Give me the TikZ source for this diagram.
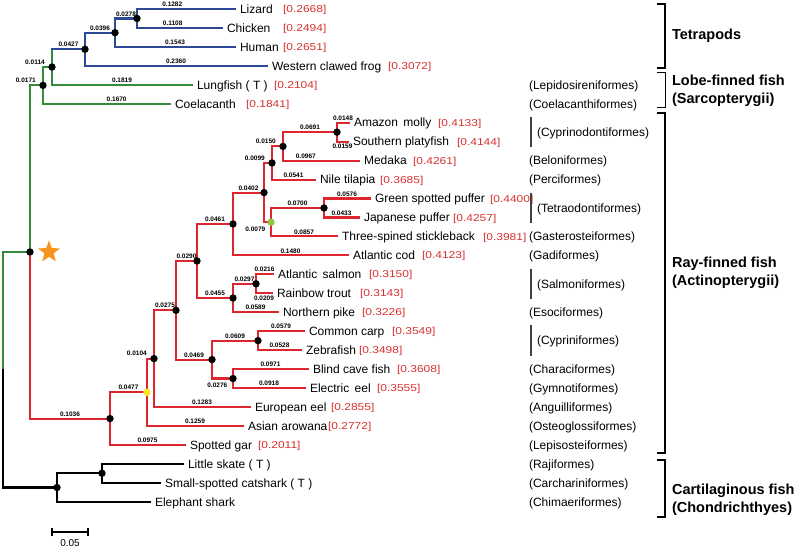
\documentclass[tikz,border=0pt]{standalone}
\usepackage{fontspec}
\setmainfont{Liberation Sans}
\newfontfamily\valfont{Liberation Sans}[FakeStretch=1.2]
\usetikzlibrary{shapes.geometric,arrows.meta}
\definecolor{tblue}{RGB}{44,74,152}
\definecolor{sgreen}{RGB}{52,140,58}
\definecolor{ared}{RGB}{221,38,48}
\definecolor{valred}{RGB}{214,48,48}
\definecolor{starorange}{RGB}{247,148,29}
\definecolor{nyellow}{RGB}{250,228,40}
\definecolor{ngreen}{RGB}{141,198,63}
\begin{document}
\begin{tikzpicture}[x=1pt,y=-18.95pt,line width=2.1pt,line cap=rect,
 leaf/.style={anchor=west,inner xsep=4pt,inner ysep=0pt,text height=8.6pt,text depth=0pt,font=\fontsize{12}{14}\selectfont},
 val/.style={anchor=west,inner sep=0pt,text height=7.2pt,text depth=0pt,text=valred,font=\valfont\fontsize{10}{12}\selectfont},
 ord/.style={anchor=west,inner sep=0pt,text height=8.6pt,text depth=0pt,font=\fontsize{12}{14}\selectfont},
 blen/.style={inner sep=1.2pt,text=black,font=\bfseries\fontsize{6.5}{7}\selectfont},
 bmid/.style={above},bbel/.style={below},
 bleft/.style={at end,anchor=south east,xshift=-5pt,yshift=.5pt},
 bunder/.style={at end,anchor=north east,xshift=-3.5pt,yshift=-2.5pt},
 grp/.style={anchor=west,align=left,inner sep=0pt,font=\bfseries\fontsize{14.5}{18}\selectfont},
 brk/.style={line width=2pt,line cap=butt}]
 \useasboundingbox (0,-0.4749) rectangle (800,28.4433);
 % leaves: name / tip x / row / text / value x / value
 \foreach \n/\x/\r/\t/\vx/\v in {lizard/235/0/Lizard/282/0.2668, chicken/222/1/Chicken/282/0.2494, human/235/2/Human/282/0.2651,
   frog/267/3/Western clawed frog/387/0.3072, lungfish/192/4/Lungfish ( T )/273/0.2104, coela/170/5/Coelacanth/245/0.1841,
   molly/349/6/Amazon\, molly/437/0.4133, platy/348/7/Southern platyfish/456/0.4144, medaka/359/8/Medaka/412/0.4261,
   tilapia/315/9/Nile tilapia/379/0.3685, gspuffer/370/10/Green spotted puffer/489/0.4400, jpuffer/359/11/Japanese puffer/452/0.4257,
   stickle/337/12/Three-spined stickleback/482/0.3981, cod/348/13/Atlantic cod/421/0.4123, salmon/273/14/Atlantic\, salmon/368/0.3150,
   trout/272/15/Rainbow trout/359/0.3143, pike/278/16/Northern pike/361/0.3226, carp/304/17/Common carp/391/0.3549,
   zebra/301/18/Zebrafish/358/0.3498, cave/308/19/Blind cave fish/396/0.3608, eeel/305/20/Electric\, eel/376/0.3555,
   eueel/250/21/European eel/330/0.2855, arowana/243/22/Asian arowana/327/0.2772, gar/185/23/Spotted gar/257/0.2011}
  {\node[leaf] (\n) at (\x,\r) {\t}; \node[val] (v\n) at (\vx,\r) {[\v]};}
 \foreach \n/\x/\r/\t in {skate/183/24/Little skate ( T ), catshark/160/25/Small-spotted catshark ( T ), eshark/150/26/Elephant shark}
  {\node[leaf] (\n) at (\x,\r) {\t};}
 % inner nodes
 \foreach \n/\x/\r in {n0278/137/0.5, n0396/115/1.25, n0427/85/2.125, n0114/52/3.0625, n0171/43/4.03125, ost/30/12.8218,
   n1036/110/21.6123, n0477/147/20.2246, n0104/154/18.4492, n0275/176/15.8984, n0290/197/13.2969, n0461/233/11.3438,
   n0402/264/9.6875, n0099/272/8.125, n0150/283/7.25, n0691/337/6.5, n0079/271/11.25, n0700/324/10.5, n0455/233/15.25,
   n0297/256/14.5, n0469/212/18.5, n0609/258/17.5, n0276/233/19.5, chond/57/25.25, batoid/102/24.5, root/3/19.036}
  {\coordinate (\n) at (\x,\r);}
 % tetrapods
 \foreach \p/\c/\l/\q/\s in {n0278/lizard/0.1282/.68/bmid, n0278/chicken/0.1108/.71/bmid, n0396/n0278/0.0278/.75/bmid,
   n0396/human/0.1543/.75/bmid, n0427/n0396/0.0396/.75/bmid, n0427/frog/0.2360/.75/bmid}
  {\draw[tblue] (\p) |- (\c) node[blen,pos=\q,\s] {\l};}
 \draw[sgreen] (n0114) -- (n0114 |- n0427);
 \draw[tblue] (n0114 |- n0427) -- (n0427) node[blen,midway,above] {0.0427};
 % lobe-finned
 \foreach \p/\c/\l/\q/\s in {n0114/lungfish/0.1819/.75/bmid, n0171/n0114/0.0114/1/bleft, n0171/coela/0.1670/.79/bmid, ost/n0171/0.0171/1/bleft}
  {\draw[sgreen] (\p) |- (\c) node[blen,pos=\q,\s] {\l};}
 \draw[sgreen] (root) |- (ost);
 % ray-finned
 \foreach \p/\c/\l/\q/\s in {ost/n1036/0.1036/.75/bmid, n1036/n0477/0.0477/.75/bmid, n1036/gar/0.0975/.75/bmid,
   n0477/n0104/0.0104/1/bleft, n0477/arowana/0.1259/.75/bmid, n0104/n0275/0.0275/.75/bmid, n0104/eueel/0.1283/.75/bmid,
   n0275/n0290/0.0290/.75/bmid, n0275/n0469/0.0469/.75/bmid, n0290/n0461/0.0461/.75/bmid, n0290/n0455/0.0455/.75/bmid,
   n0461/n0402/0.0402/.75/bmid, n0461/cod/0.1480/.75/bmid, n0402/n0099/0.0099/1/bleft, n0402/n0079/0.0079/1/bunder,
   n0099/n0150/0.0150/1/bleft, n0099/tilapia/0.0541/.75/bmid, n0150/n0691/0.0691/.75/bmid, n0150/medaka/0.0967/.65/bmid,
   n0691/molly/0.0148/.75/bmid, n0691/platy/0.0159/.75/bbel, n0079/n0700/0.0700/.75/bmid, n0079/stickle/0.0857/.75/bmid,
   n0700/gspuffer/0.0576/.75/bmid, n0700/jpuffer/0.0433/.75/bmid, n0455/n0297/0.0297/.75/bmid, n0455/pike/0.0589/.75/bmid,
   n0297/salmon/0.0216/.75/bmid, n0297/trout/0.0209/.75/bbel, n0469/n0609/0.0609/.75/bmid, n0469/n0276/0.0276/1/bunder,
   n0609/carp/0.0579/.75/bmid, n0609/zebra/0.0528/.75/bmid, n0276/cave/0.0971/.75/bmid, n0276/eeel/0.0918/.75/bmid}
  {\draw[ared] (\p) |- (\c) node[blen,pos=\q,\s] {\l};}
 % cartilaginous
 \draw (root) |- (chond);
 \foreach \p/\c in {chond/batoid, batoid/skate, batoid/catshark, chond/eshark}{\draw (\p) |- (\c);}
 % dots
 \foreach \n in {n0278,n0396,n0427,n0114,n0171,ost,n1036,n0104,n0275,n0290,n0461,n0402,n0099,n0150,n0691,n0700,n0455,n0297,n0469,n0609,n0276,chond,batoid}
  {\fill (\n) circle[radius=3.7pt];}
 \fill[nyellow] (n0477) circle[radius=3.7pt];
 \fill[ngreen] (n0079) circle[radius=3.7pt];
 \node[star,star points=5,star point ratio=2.4,fill=starorange,inner sep=0pt,minimum size=23pt] (ancstar) at (49,12.8218) {};
 % orders
 \foreach \r/\t in {4/Lepidosireniformes, 5/Coelacanthiformes, 8/Beloniformes, 9/Perciformes, 12/Gasterosteiformes, 13/Gadiformes,
   16/Esociformes, 19/Characiformes, 20/Gymnotiformes, 21/Anguilliformes, 22/Osteoglossiformes, 23/Lepisosteiformes,
   24/Rajiformes, 25/Carchariniformes, 26/Chimaeriformes}
  {\node[ord] (o\r) at (528,\r) {(\t)};}
 \foreach \a/\t in {6/Cyprinodontiformes, 10/Tetraodontiformes, 14/Salmoniformes, 17/Cypriniformes}
  {\draw[line width=1.2pt,line cap=butt,black!75] (531,\a-.3) -- (531,\a+1.3); \node[ord] (o\a) at (536,\a+.5) {(\t)};}
 % groups
 \draw[brk] (657,-.264) -- (665,-.264) -- (665,3.113) -- (657,3.113);
 \draw[brk,line width=1pt] (657,3.377) -- (665,3.377) -- (665,5.172) -- (657,5.172);
 \draw[brk] (657,5.488) -- (665,5.488) -- (665,23.43) -- (657,23.43);
 \draw[brk] (657,23.80) -- (665,23.80) -- (665,26.81) -- (657,26.81);
 \node[grp] (tetra) at (671,1.425) {Tetrapods};
 \node[grp] (sarco) at (671,4.33) {Lobe-finned fish\\(Sarcopterygii)};
 \node[grp] (actino) at (671,13.93) {Ray-finned fish\\(Actinopterygii)};
 \node[grp] (chondro) at (671,25.88) {Cartilaginous fish\\(Chondrichthyes)};
 % scale
 \draw[line width=1.6pt,line cap=butt,{Bar[width=8pt]}-{Bar[width=8pt]}] (51,27.6) -- (89,27.6);
 \node[font=\fontsize{10}{12}\selectfont] (scale) at (70,28.2) {0.05};
\end{tikzpicture}
\end{document}
